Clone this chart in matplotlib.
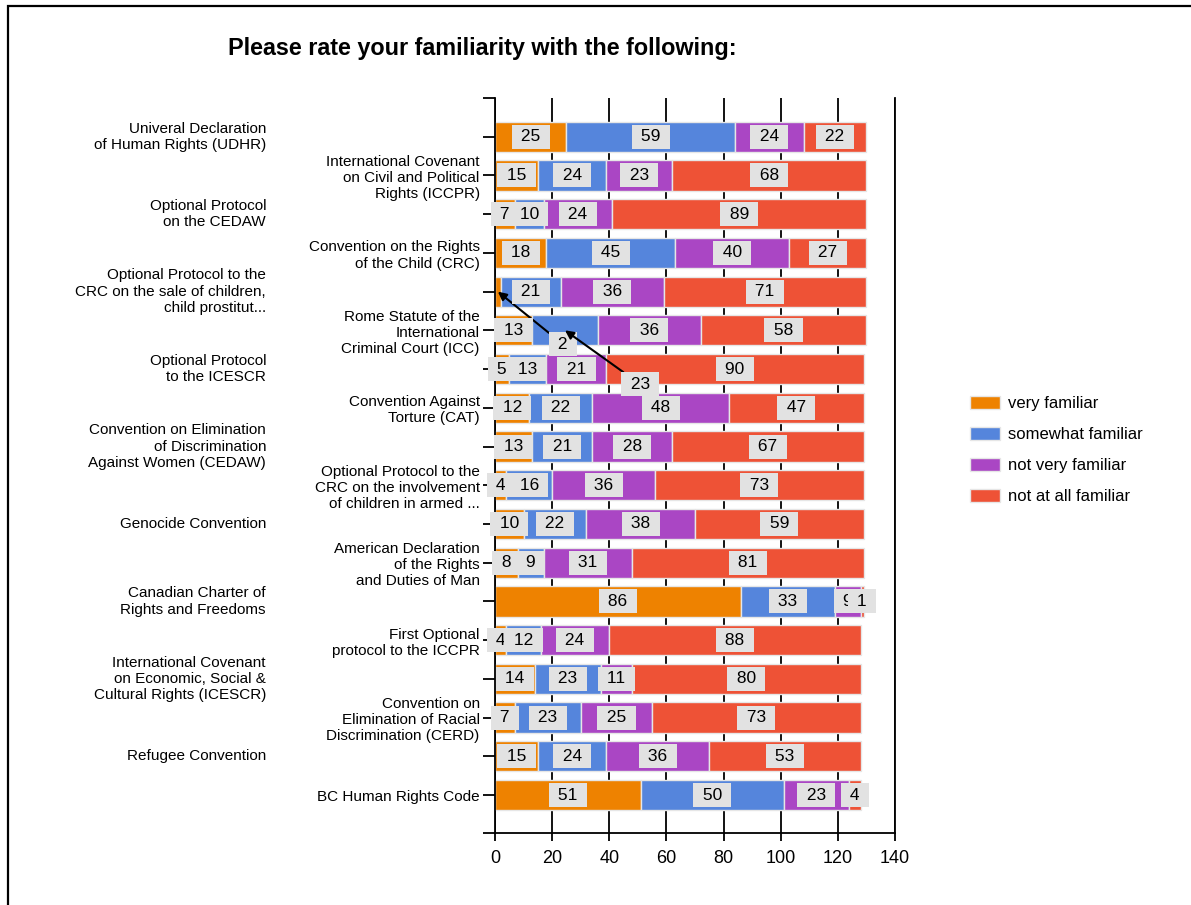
import matplotlib
matplotlib.use("Agg")
import matplotlib.pyplot as plt
from matplotlib.patches import Rectangle
import numpy as np

plt.rcParams['font.family'] = ['Liberation Sans', 'DejaVu Sans']

categories = [
    "Univeral Declaration\nof Human Rights (UDHR)",
    "International Covenant\non Civil and Political\nRights (ICCPR)",
    "Optional Protocol\non the CEDAW",
    "Convention on the Rights\nof the Child (CRC)",
    "Optional Protocol to the\nCRC on the sale of children,\nchild prostitut...",
    "Rome Statute of the\nInternational\nCriminal Court (ICC)",
    "Optional Protocol\nto the ICESCR",
    "Convention Against\nTorture (CAT)",
    "Convention on Elimination\nof Discrimination\nAgainst Women (CEDAW)",
    "Optional Protocol to the\nCRC on the involvement\nof children in armed ...",
    "Genocide Convention",
    "American Declaration\nof the Rights\nand Duties of Man",
    "Canadian Charter of\nRights and Freedoms",
    "First Optional\nprotocol to the ICCPR",
    "International Covenant\non Economic, Social &\nCultural Rights (ICESCR)",
    "Convention on\nElimination of Racial\nDiscrimination (CERD)",
    "Refugee Convention",
    "BC Human Rights Code",
]

series_names = ["very familiar", "somewhat familiar", "not very familiar", "not at all familiar"]
very = [25, 15, 7, 18, 2, 13, 5, 12, 13, 4, 10, 8, 86, 4, 14, 7, 15, 51]
somewhat = [59, 24, 10, 45, 21, 23, 13, 22, 21, 16, 22, 9, 33, 12, 23, 23, 24, 50]
not_very = [24, 23, 24, 40, 36, 36, 21, 48, 28, 36, 38, 31, 9, 24, 11, 25, 36, 23]
not_at_all = [22, 68, 89, 27, 71, 58, 90, 47, 67, 73, 59, 81, 1, 88, 80, 73, 53, 4]
xticks = [0, 20, 40, 60, 80, 100, 120, 140]

colors = ['#EE8200', '#5585DC', '#AA46C4', '#EE5236']

# labels that the original chart moved out of the way (series, row) -> text position
moved = {(0, 4): (23.8, 5.36), (1, 5): (50.8, 6.39)}

fig = plt.figure(figsize=(11.91, 9.05), dpi=100)
ax = fig.add_axes([495/1191, 1-833/905, 400/1191, 735/905])

y = np.arange(len(categories))
data = [very, somewhat, not_very, not_at_all]
left = np.zeros(len(categories))
for s, vals in enumerate(data):
    vals = np.array(vals)
    ax.barh(y, vals, left=left, height=0.78, color=colors[s], edgecolor='#e6e6e6',
            linewidth=1, label=series_names[s], zorder=2)
    for r in range(len(categories)):
        cx = left[r] + vals[r] / 2
        box = dict(boxstyle='square,pad=0.26', fc='#e2e2e2', ec='none')
        if (s, r) in moved:
            ax.annotate(' %d ' % vals[r], xy=(cx, r), xytext=moved[(s, r)],
                        ha='center', va='center', fontsize=12.5, bbox=box, zorder=4,
                        arrowprops=dict(arrowstyle='-|>', color='black', lw=1.5,
                                        shrinkA=0, shrinkB=0))
        else:
            ax.text(cx, r, ' %d ' % vals[r], ha='center', va='center', fontsize=12.5,
                    bbox=box, zorder=4)
    left += vals

ax.set_xlim(0, 140)
ax.set_ylim(17.98, -1.0)
ax.set_xticks(xticks)
ax.tick_params(axis='x', labelsize=13, length=6, width=1.3, direction='out', pad=6)
ax.set_yticks(y)
ax.set_yticklabels([c if i % 2 == 1 else '' for i, c in enumerate(categories)],
                   fontsize=11, linespacing=1.2)
ax.set_yticks([-1.0, 17.98], minor=True)
ax.tick_params(axis='y', which='both', length=9, width=1.3, pad=2)
for i, c in enumerate(categories):
    if i % 2 == 0:
        ax.text(-0.5725, i, c, transform=ax.get_yaxis_transform(), ha='right',
                va='center', fontsize=11, linespacing=1.2)

ax.xaxis.grid(True, color='black', linewidth=1.3)
ax.set_axisbelow(True)
ax.spines['top'].set_visible(False)
for sp in ['left', 'bottom', 'right']:
    ax.spines[sp].set_linewidth(1.3)

fig.text(482/1191, 1-49/905, "Please rate your familiarity with the following:",
         ha='center', va='center', fontsize=16.8, fontweight='bold')

ax.legend(loc='upper left', bbox_to_anchor=(970/1191, 1-396/905),
          bbox_transform=fig.transFigure, frameon=False, fontsize=12,
          handlelength=1.8, handleheight=0.8, handletextpad=0.5,
          labelspacing=0.95, borderpad=0, borderaxespad=0)

fig.add_artist(Rectangle((8/1191, -0.1), 1.2, 1.1-6/905, transform=fig.transFigure,
                         fill=False, ec='black', lw=1.6))

fig.savefig('out.png', dpi=100)
